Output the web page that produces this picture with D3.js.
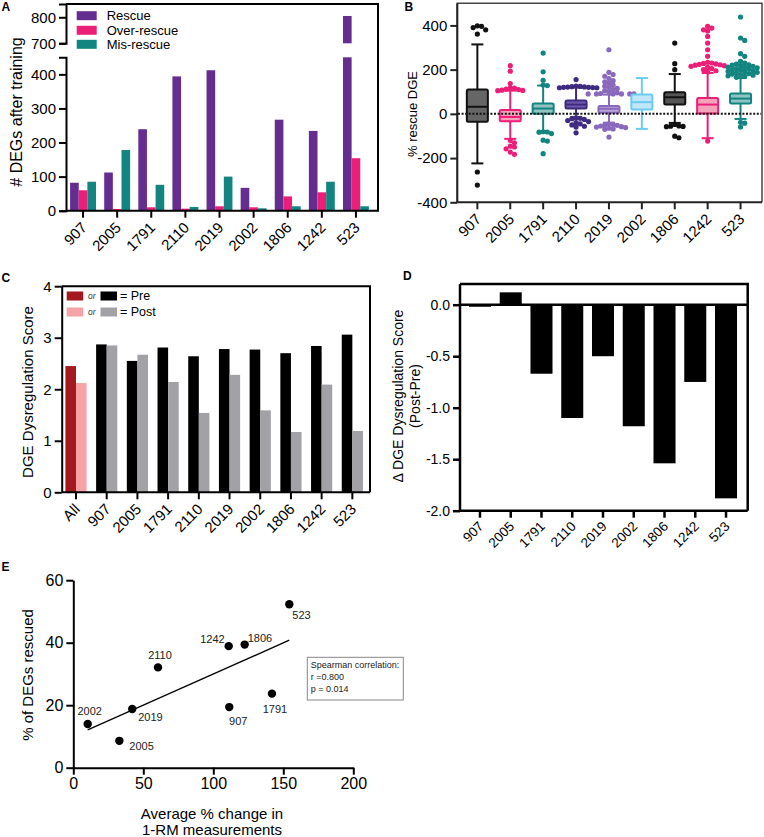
<!DOCTYPE html>
<html><head><meta charset="utf-8">
<script src="https://cdn.jsdelivr.net/npm/d3@7"></script>
<style>
body{margin:0;background:#fff;}
svg{display:block;}
</style></head><body>
<svg id="chart" width="764" height="837"></svg>
<script>
// ---------- DATA ----------
const patients = ["907","2005","1791","2110","2019","2002","1806","1242","523"];

// Panel A
const rescueSeries = ["Rescue","Over-rescue","Mis-rescue"];
const rescueCounts = [82,112,239,394,412,67,267,234,805];
const overRescueCounts = [60,5,10,6,13,10,42,54,154];
const misRescueCounts = [85,178,76,11,100,7,13,85,13];
const aTicksLower = [0,100,200,300,400];
const aTicksUpper = [700,800];

// Panel B (box plots, % rescue DGE)
const boxWhiskerLow = [-224,-113,-78,-15,-40,-68,-41,-110,-23];
const boxQ1 = [-36,-33,0,24,5,20,42,2,47];
const boxMedian = [32,-14,24,42,23,53,75,42,69];
const boxQ3 = [110,17,47,60,35,87,98,72,92];
const boxWhiskerHigh = [314,105,128,120,87,162,180,185,162];
const boxOutliers = [
  [398,396,390,380,361,-263,-322],
  [218,193,137,105,106,107,110,112,117,118,-120,-131,-146,-150,-158,-173,-183],
  [275,190,152,128,130,-81,-82,-83,-89,-119,-123,-180],
  [155,118,119,120,121,122,123,124,125,118,120,-18,-20,-22,-25,-30,-35,-40,-45,-50,-56,-60,-86],
  [290,188,178,170,160,150,145,140,130,125,120,115,110,105,100,95,92,90,90,90,90,90,90,-45,-48,-50,-52,-55,-58,-60,-62,-65,-68,-70,-105],
  [],
  [320,227,200,-48,-55,-56,-57,-58,-101,-108],
  [396,388,380,375,350,320,290,260,233,230,228,226,224,222,220,218,215,210,205,200,195,190,-123],
  [438,343,332,272,260,238,230,225,222,220,218,215,212,210,208,205,203,200,198,195,192,190,188,185,182,180,178,175,172,170,165,-38,-42,-59]
];
const bTicks = [-400,-200,0,200,400];

// Panel C
const scoreGroups = ["All","907","2005","1791","2110","2019","2002","1806","1242","523"];
const preScores = [2.45,2.87,2.55,2.81,2.64,2.78,2.77,2.70,2.84,3.06];
const postScores = [2.12,2.85,2.67,2.14,1.54,2.28,1.59,1.17,2.09,1.19];
const cTicks = [0,1,2,3,4];

// Panel D
const deltaScores = [-0.02,0.12,-0.67,-1.10,-0.50,-1.18,-1.54,-0.75,-1.88];
const dTicks = [0,-0.5,-1.0,-1.5,-2.0];

// Panel E
const scatterNames = ["2002","2005","2019","2110","907","1242","1806","1791","523"];
const strengthChange = [10.3,32.9,42.1,60.5,111.4,111.0,122.4,141.9,154.3];
const pctRescued = [14.0,8.6,18.8,32.1,19.4,38.9,39.4,23.7,52.3];
const eTicksX = [0,50,100,150,200];
const eTicksY = [0,20,40,60];
const spearmanText = ["Spearman correlation:","r =0.800","p = 0.014"];

// ---------- STYLE ----------
const FONT = "'Liberation Sans', Arial, Helvetica, sans-serif";
const colRescue = "#662d91", colOver = "#ec1f78", colMis = "#138581";
const boxStroke = ["#111","#ec1f78","#138581","#3e2b80","#8a68bb","#6ccbf2","#111","#ec1f78","#138581"];
const boxFill = ["#666","#f5a3bb","#8fc4c2","#6e5ca8","#b9a4d8","#bfe6f9","#555","#f5a3bb","#8fc4c2"];

const svg = d3.select("#chart").attr("font-family", FONT);
const fmtMinus = f => d => f(d).replace("\u2212","-");

function styleAxis(g, w, fs, color) {
  g.attr("font-family", FONT).attr("font-size", fs);
  g.selectAll("path,line").attr("stroke", color || "#000").attr("stroke-width", w);
  g.selectAll("text").attr("fill", "#000");
}
// rotated category labels: each in its own rotated group at the band centre
function rotatedLabels(scale, axisY, fs, offX, offY) {
  scale.domain().forEach(c => {
    const tx = scale(c) + scale.bandwidth()/2;
    svg.append("g")
      .attr("transform", "translate(" + (tx + offX) + "," + (axisY + offY) + ") rotate(-45)")
      .append("text")
      .attr("x", 0).attr("y", fs * 0.36)
      .attr("text-anchor", "end").attr("font-size", fs).attr("fill", "#000").text(c);
  });
}
function panelLabel(t, x, y) {
  svg.append("text").attr("x", x).attr("y", y).text(t)
    .attr("font-weight", "bold").attr("font-size", 12).attr("font-family", FONT);
}

// ================= PANEL A =================
(function(){
  const xA = d3.scaleBand().domain(patients).range([66,373]).paddingInner(0.24).paddingOuter(0.12);
  const xS = d3.scaleBand().domain(rescueSeries).range([0, xA.bandwidth()]);
  const yLo = d3.scaleLinear().domain([0,450]).range([210.7,57.3]);
  const yHi = d3.scaleLinear().domain([700,851]).range([43.3,4]);
  const series = [
    {name:"Rescue", vals:rescueCounts, col:colRescue},
    {name:"Over-rescue", vals:overRescueCounts, col:colOver},
    {name:"Mis-rescue", vals:misRescueCounts, col:colMis}
  ];
  const g = svg.append("g");
  series.forEach(s => {
    s.vals.forEach((v,i) => {
      const x = xA(patients[i]) + xS(s.name);
      const w = xS.bandwidth();
      const lowTop = v > 450 ? 450 : v;
      g.append("rect").attr("x", x).attr("width", w)
        .attr("y", yLo(lowTop)).attr("height", yLo(0) - yLo(lowTop)).attr("fill", s.col);
      if (v > 450) {
        g.append("rect").attr("x", x).attr("width", w)
          .attr("y", yHi(v)).attr("height", yHi(700) - yHi(v)).attr("fill", s.col);
      }
    });
  });
  svg.append("path").attr("d","M66,4H378V210.7H66").attr("fill","none").attr("stroke","#000").attr("stroke-width",2);
  const ax = svg.append("g").attr("transform","translate(0,210.7)")
    .call(d3.axisBottom(xA).tickSize(7).tickSizeOuter(0).tickFormat(""));
  ax.select(".domain").remove();
  styleAxis(ax, 2, 15);
  rotatedLabels(xA, 210.7, 15, 1, 14);
  const ayLo = svg.append("g").attr("transform","translate(66,0)")
    .call(d3.axisLeft(yLo).tickValues(aTicksLower).tickSize(7).tickSizeOuter(7));
  styleAxis(ayLo, 2, 15);
  const ayHi = svg.append("g").attr("transform","translate(66,0)")
    .call(d3.axisLeft(yHi).tickValues(aTicksUpper).tickSize(7).tickSizeOuter(7));
  styleAxis(ayHi, 2, 15);
  svg.append("text").attr("transform","translate(16,112) rotate(-90)").attr("dy","0.35em")
    .attr("text-anchor","middle").attr("font-size",16).text("# DEGs after training");
  series.forEach((s,i) => {
    const cy = [15.7,30.3,44.3][i];
    svg.append("rect").attr("x",76.7).attr("y",cy-4.5).attr("width",20).attr("height",9).attr("fill",s.col);
    svg.append("text").attr("x",106.7).attr("y",cy).attr("dy","0.35em").attr("font-size",13).text(s.name);
  });
  panelLabel("A", 1.5, 10.5);
})();

// ================= PANEL B =================
(function(){
  const xB = d3.scaleBand().domain(patients).range([460.9,757]).paddingInner(0.3).paddingOuter(0.15);
  const yB = d3.scaleLinear().domain([-400,500]).range([202.3,3.3]);
  const r = 2.6;
  svg.append("path").attr("d","M457.3,202.3V3.3H762V202.3").attr("fill","none").attr("stroke","#444").attr("stroke-width",1.5);
  const g = svg.append("g");
  patients.forEach((p,i) => {
    const cx = xB(p) + xB.bandwidth()/2;
    const bw = xB.bandwidth();
    const sc = boxStroke[i], fc = boxFill[i];
    g.append("line").attr("x1",cx).attr("x2",cx).attr("y1",yB(boxWhiskerHigh[i])).attr("y2",yB(boxQ3[i])).attr("stroke",sc).attr("stroke-width",2);
    g.append("line").attr("x1",cx).attr("x2",cx).attr("y1",yB(boxQ1[i])).attr("y2",yB(boxWhiskerLow[i])).attr("stroke",sc).attr("stroke-width",2);
    [boxWhiskerHigh[i], boxWhiskerLow[i]].forEach(v => {
      g.append("line").attr("x1",cx-6).attr("x2",cx+6).attr("y1",yB(v)).attr("y2",yB(v)).attr("stroke",sc).attr("stroke-width",2);
    });
    g.append("rect").attr("x",cx-bw/2+1).attr("width",bw-2)
      .attr("y",yB(boxQ3[i])).attr("height",yB(boxQ1[i])-yB(boxQ3[i]))
      .attr("fill",fc).attr("stroke",sc).attr("stroke-width",2).attr("rx",1.5);
    g.append("line").attr("x1",cx-bw/2+1).attr("x2",cx+bw/2-1).attr("y1",yB(boxMedian[i])).attr("y2",yB(boxMedian[i])).attr("stroke",sc).attr("stroke-width",2);
    const placed = [];
    boxOutliers[i].slice().sort((a,b)=>b-a).forEach(v => {
      const y = yB(v);
      let k = 0, x = 0;
      while (k < 40) {
        x = k === 0 ? 0 : (k % 2 ? 1 : -1) * Math.ceil(k/2) * r * 1.6;
        if (!placed.some(q => (q.x-x)**2 + (q.y-y)**2 < (r*1.6)**2)) break;
        k++;
      }
      placed.push({x,y});
      g.append("circle").attr("cx",cx+x).attr("cy",y).attr("r",r).attr("fill",sc);
    });
  });
  svg.append("line").attr("x1",458).attr("x2",761).attr("y1",yB(0)).attr("y2",yB(0))
    .attr("stroke","#111").attr("stroke-width",2).attr("stroke-dasharray","2,1.6");
  const ax = svg.append("g").attr("transform","translate(0,202.3)")
    .call(d3.axisBottom(xB).tickSize(7).tickSizeOuter(0).tickFormat(""));
  ax.select(".domain").attr("d","M457.3,0H762");
  styleAxis(ax, 2, 15, "#222");
  rotatedLabels(xB, 202.3, 15, 1, 14);
  const ay = svg.append("g").attr("transform","translate(457.3,0)")
    .call(d3.axisLeft(yB).tickValues(bTicks).tickSize(7).tickSizeOuter(0).tickFormat(fmtMinus(d3.format("d"))));
  ay.select(".domain").attr("d","M0,3.3V202.3");
  styleAxis(ay, 2, 15, "#222");
  svg.append("text").attr("transform","translate(412,114) rotate(-90)").attr("dy","0.35em")
    .attr("text-anchor","middle").attr("font-size",13).text("% rescue DGE");
  panelLabel("B", 404.5, 10.5);
})();

// ================= PANEL C =================
(function(){
  const xC = d3.scaleBand().domain(scoreGroups).range([60.65,367.7]).paddingInner(0.31).paddingOuter(0.155);
  const yC = d3.scaleLinear().domain([0,4]).range([492.3,286.2]);
  const half = xC.bandwidth()/2;
  scoreGroups.forEach((grp,i) => {
    const x0 = xC(grp);
    const isAll = grp === "All";
    svg.append("rect").attr("x",x0).attr("width",half).attr("y",yC(preScores[i])).attr("height",yC(0)-yC(preScores[i]))
      .attr("fill", isAll ? "#a3191f" : "#000");
    svg.append("rect").attr("x",x0+half).attr("width",half).attr("y",yC(postScores[i])).attr("height",yC(0)-yC(postScores[i]))
      .attr("fill", isAll ? "#f5a3a6" : "#a1a1a6");
  });
  svg.append("path").attr("d","M61.7,286.2H370V492.3").attr("fill","none").attr("stroke","#000").attr("stroke-width",2);
  const ax = svg.append("g").attr("transform","translate(0,492.3)")
    .call(d3.axisBottom(xC).tickSize(7).tickSizeOuter(0).tickFormat(""));
  ax.select(".domain").attr("d","M61.7,0H370");
  styleAxis(ax, 2, 15);
  rotatedLabels(xC, 492.3, 15, 1, 14);
  const ay = svg.append("g").attr("transform","translate(61.7,0)")
    .call(d3.axisLeft(yC).tickValues(cTicks).tickSize(7).tickSizeOuter(0).tickFormat(d3.format("d")));
  styleAxis(ay, 2, 15);
  svg.append("text").attr("transform","translate(28,392) rotate(-90)").attr("dy","0.35em")
    .attr("text-anchor","middle").attr("font-size",15).text("DGE Dysregulation Score");
  const rows = [{cy:296, a:"#a3191f", b:"#000", t:"= Pre"},{cy:312, a:"#f5a3a6", b:"#a1a1a6", t:"= Post"}];
  rows.forEach(rw => {
    svg.append("rect").attr("x",66.7).attr("y",rw.cy-4.5).attr("width",16.5).attr("height",9).attr("fill",rw.a);
    svg.append("text").attr("x",88).attr("y",rw.cy).attr("dy","0.35em").attr("font-size",8.5).attr("font-style","italic").attr("fill","#333").text("or");
    svg.append("rect").attr("x",100.5).attr("y",rw.cy-4.5).attr("width",16.5).attr("height",9).attr("fill",rw.b);
    svg.append("text").attr("x",120).attr("y",rw.cy).attr("dy","0.35em").attr("font-size",12.5).text(rw.t);
  });
  panelLabel("C", 1.5, 281.5);
})();

// ================= PANEL D =================
(function(){
  const xD = d3.scaleBand().domain(patients).range([464.6,741.4]).paddingInner(0.284).paddingOuter(0.142);
  const yD = d3.scaleLinear().domain([-2,0.2]).range([510.7,284.1]);
  patients.forEach((p,i) => {
    const v = deltaScores[i];
    svg.append("rect").attr("x",xD(p)).attr("width",xD.bandwidth())
      .attr("y",yD(Math.max(0,v))).attr("height",Math.abs(yD(v)-yD(0))).attr("fill","#000");
  });
  svg.append("path").attr("d","M460,284.1H747.7V510.7").attr("fill","none").attr("stroke","#000").attr("stroke-width",2.5);
  svg.append("line").attr("x1",460).attr("x2",747.7).attr("y1",yD(0)).attr("y2",yD(0)).attr("stroke","#000").attr("stroke-width",2.5);
  const ax = svg.append("g").attr("transform","translate(0,510.7)")
    .call(d3.axisBottom(xD).tickSize(7).tickSizeOuter(0).tickFormat(""));
  ax.select(".domain").attr("d","M460,0H747.7");
  styleAxis(ax, 2.5, 13.5);
  rotatedLabels(xD, 510.7, 13.5, 1, 13);
  const ay = svg.append("g").attr("transform","translate(460,0)")
    .call(d3.axisLeft(yD).tickValues(dTicks).tickSize(7).tickSizeOuter(0).tickFormat(fmtMinus(d3.format(".1f"))));
  ay.select(".domain").attr("d","M0,284.1V510.7");
  styleAxis(ay, 2.5, 14);
  svg.append("text").attr("transform","translate(398,396) rotate(-90)").attr("dy","0.35em")
    .attr("text-anchor","middle").attr("font-size",14).text("\u0394 DGE Dysregulation Score");
  svg.append("text").attr("transform","translate(415,396) rotate(-90)").attr("dy","0.35em")
    .attr("text-anchor","middle").attr("font-size",14).text("(Post-Pre)");
  panelLabel("D", 403, 280);
})();

// ================= PANEL E =================
(function(){
  const xE = d3.scaleLinear().domain([0,200]).range([73.3,353.3]);
  const yE = d3.scaleLinear().domain([0,60]).range([767.7,580.2]);
  const ax = svg.append("g").attr("transform","translate(0,767.7)")
    .call(d3.axisBottom(xE).tickValues(eTicksX).tickSize(7).tickSizeOuter(0));
  styleAxis(ax, 2, 16);
  const ay = svg.append("g").attr("transform","translate(73.3,0)")
    .call(d3.axisLeft(yE).tickValues(eTicksY).tickSize(7).tickSizeOuter(0));
  styleAxis(ay, 2, 16);
  const n = strengthChange.length;
  const mx = d3.mean(strengthChange), my = d3.mean(pctRescued);
  let sxy = 0, sxx = 0;
  for (let i=0;i<n;i++){ sxy += (strengthChange[i]-mx)*(pctRescued[i]-my); sxx += (strengthChange[i]-mx)**2; }
  const slope = sxy/sxx, icpt = my - slope*mx;
  const [x0,x1] = d3.extent(strengthChange);
  svg.append("line").attr("x1",xE(x0)).attr("y1",yE(icpt+slope*x0)).attr("x2",xE(x1)).attr("y2",yE(icpt+slope*x1))
    .attr("stroke","#000").attr("stroke-width",1.3);
  const labelPos = {
    "2002":{dx:2,dy:-9,a:"middle"}, "2005":{dx:10,dy:9,a:"start"}, "2019":{dx:6,dy:12,a:"start"},
    "2110":{dx:2,dy:-8.5,a:"middle"}, "907":{dx:9,dy:18,a:"middle"}, "1242":{dx:-4,dy:-3,a:"end"},
    "1806":{dx:3,dy:-3,a:"start"}, "1791":{dx:3,dy:19,a:"middle"}, "523":{dx:3,dy:15,a:"start"}
  };
  scatterNames.forEach((nm,i) => {
    const px = xE(strengthChange[i]), py = yE(pctRescued[i]);
    svg.append("circle").attr("cx",px).attr("cy",py).attr("r",4.2).attr("fill","#000");
    const lp = labelPos[nm];
    svg.append("text").attr("x",px+lp.dx).attr("y",py+lp.dy).attr("text-anchor",lp.a)
      .attr("font-size",11).attr("fill","#222").text(nm);
  });
  svg.append("rect").attr("x",307.3).attr("y",657.3).attr("width",96).attr("height",42.7)
    .attr("fill","none").attr("stroke","#888").attr("stroke-width",1);
  spearmanText.forEach((t,i) => {
    svg.append("text").attr("x",310.8).attr("y",668.3+i*11.8).attr("font-size",9).attr("fill","#222").text(t);
  });
  svg.append("text").attr("x",212).attr("y",818.5).attr("text-anchor","middle").attr("font-size",15).text("Average % change in");
  svg.append("text").attr("x",212).attr("y",835).attr("text-anchor","middle").attr("font-size",15).text("1-RM measurements");
  svg.append("text").attr("transform","translate(28,675) rotate(-90)").attr("dy","0.35em")
    .attr("text-anchor","middle").attr("font-size",15).text("% of DEGs rescued");
  panelLabel("E", 1.5, 570.5);
})();
</script>
</body></html>
